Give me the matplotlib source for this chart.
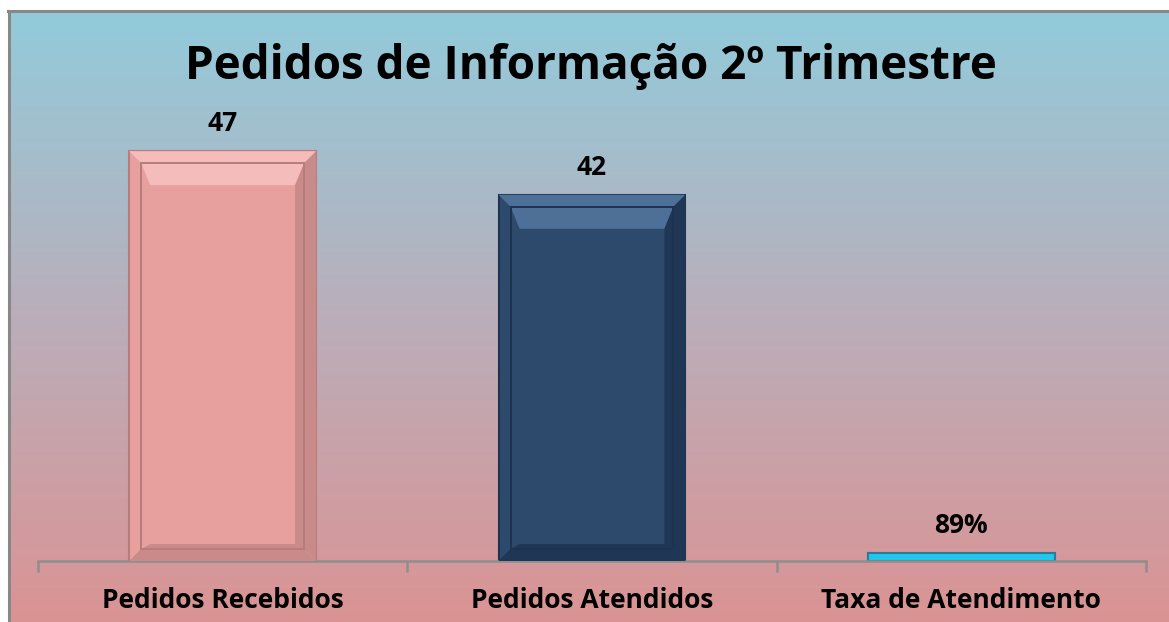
import numpy as np
import matplotlib
matplotlib.use("Agg")
import matplotlib.pyplot as plt
from matplotlib.patches import Polygon, Rectangle
from matplotlib.lines import Line2D

categories = ["Pedidos Recebidos", "Pedidos Atendidos", "Taxa de Atendimento"]
values = [47, 42, 0.89]
value_labels = ["47", "42", "89%"]
title = "Pedidos de Informação 2º Trimestre"

face_colors = ["#E8A09F", "#2D4A6D", "#22C8EC"]
edge_colors = ["#B87C7C", "#1E3350", "#2A7A9A"]
light_colors = ["#F4BDBB", "#4D6F98", "#7FE4F8"]
dark_colors = ["#C98A8A", "#1F3654", "#1490B0"]

plt.rcParams["font.family"] = ["Open Sans", "DejaVu Sans"]

fig = plt.figure(figsize=(11.69, 6.22), dpi=100)
fig.patch.set_facecolor("white")

# gradient background with grey frame on left/top
bg = fig.add_axes([9 / 1169, 0, 1 - 9 / 1169, 1 - 12 / 622])
top = np.array([146, 203, 219]) / 255
mid = np.array([186, 174, 186]) / 255
bot = np.array([219, 147, 147]) / 255
t = np.linspace(0, 1, 700)[:, None]
grad = np.where(t < 0.5, top + (mid - top) * (t / 0.5), mid + (bot - mid) * ((t - 0.5) / 0.5))
bg.imshow(grad[:, None, :], aspect="auto", extent=[0, 1, 0, 1], interpolation="bilinear")
bg.set_xlim(0, 1)
bg.set_ylim(0, 1)
bg.set_axis_off()
fig.add_artist(Line2D([9 / 1169, 9 / 1169], [0, 1 - 11 / 622], color="#888888", lw=2.2, transform=fig.transFigure))
fig.add_artist(Line2D([8 / 1169, 1], [1 - 11 / 622, 1 - 11 / 622], color="#888888", lw=2.2, transform=fig.transFigure))

ax = fig.add_axes([38 / 1169, 61 / 622, (1146 - 38) / 1169, 436 / 622])
ax.patch.set_alpha(0)
x = np.arange(len(categories))
bars = ax.bar(x, values, width=0.506, color=face_colors, edgecolor=edge_colors, linewidth=1.5, zorder=2)
ax.set_xlim(-0.5, 2.5)
ax.set_ylim(0, 50)

for s in ["left", "right", "top"]:
    ax.spines[s].set_visible(False)
ax.spines["bottom"].set_color("#8E8E8E")
ax.spines["bottom"].set_linewidth(1.8)
ax.set_yticks([])
ax.set_xticks(x)
ax.set_xticklabels(categories, fontsize=19, fontweight="bold", color="black")
ax.tick_params(axis="x", which="major", length=0, pad=19)
ax.set_xticks([-0.5, 0.5, 1.5, 2.5], minor=True)
ax.tick_params(axis="x", which="minor", length=8, width=1.8, color="#8E8E8E", direction="out")

# bevel decoration built from each bar's own geometry
fig.canvas.draw()
inv = ax.transData.inverted()


def poly(pts, color, z):
    ax.add_patch(Polygon(inv.transform(pts), closed=True, facecolor=color, edgecolor="none", zorder=z))


for i, b in enumerate(bars):
    (x0, y0), (x1, y1) = ax.transData.transform([(b.get_x(), 0), (b.get_x() + b.get_width(), b.get_height())])
    if y1 - y0 < 40:
        continue
    o = 12
    # outer band
    poly([(x0, y1), (x1, y1), (x1 - o, y1 - o), (x0 + o, y1 - o)], light_colors[i], 3)
    poly([(x1, y1), (x1, y0), (x1 - o, y0 + o), (x1 - o, y1 - o)], dark_colors[i], 3)
    poly([(x0, y0), (x0 + o, y0 + o), (x1 - o, y0 + o), (x1, y0)], dark_colors[i], 3)
    ix0, ix1, iy0, iy1 = x0 + o, x1 - o, y0 + o, y1 - o
    # inner panel bevel
    d = 22
    s = 9
    poly([(ix0, iy1), (ix1, iy1), (ix1 - s, iy1 - d), (ix0 + s, iy1 - d)], light_colors[i], 3)
    poly([(ix1, iy1), (ix1, iy0), (ix1 - s, iy0 + 5), (ix1 - s, iy1 - d)], dark_colors[i], 3)
    poly([(ix0, iy0), (ix0 + s, iy0 + 5), (ix1 - s, iy0 + 5), (ix1, iy0)], dark_colors[i], 3)
    (rx0, ry0) = inv.transform((ix0, iy0))
    (rx1, ry1) = inv.transform((ix1, iy1))
    ax.add_patch(Rectangle((rx0, ry0), rx1 - rx0, ry1 - ry0, fill=False, edgecolor=edge_colors[i], lw=1.4, zorder=4))

for b, lab in zip(bars, value_labels):
    ax.annotate(lab, (b.get_x() + b.get_width() / 2, b.get_height()), xytext=(0, 10), textcoords="offset points",
                ha="center", va="bottom", fontsize=19, fontweight="bold", color="black", zorder=5)

fig.text(591 / 1169, 1 - 67 / 622, title, ha="center", va="center", fontsize=33, fontweight="bold", color="black")

fig.savefig("out.png", dpi=100)
